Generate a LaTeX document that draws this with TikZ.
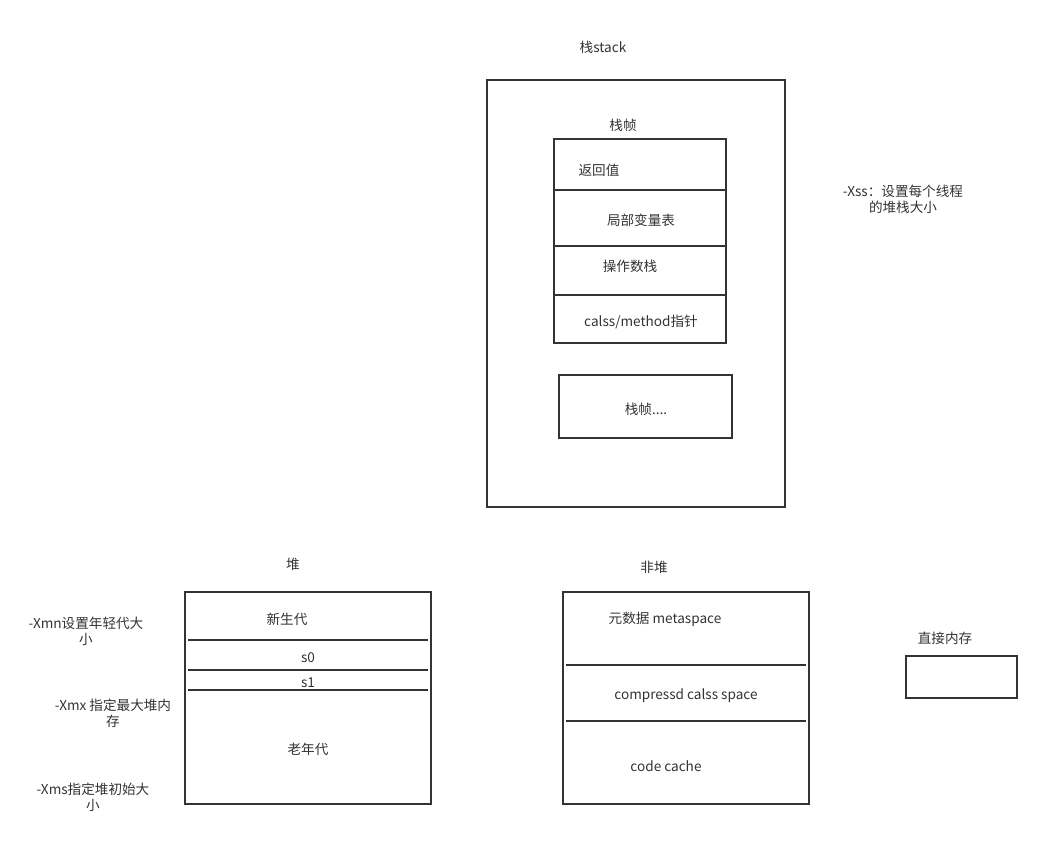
\documentclass[tikz,border=0pt]{standalone}
\usepackage{fontspec}
\setmainfont{Noto Sans CJK SC}
\usetikzlibrary{positioning,calc}
\definecolor{ink}{HTML}{333333}

\begin{document}
\begin{tikzpicture}[x=0.75pt,y=0.75pt,yscale=-1,xscale=1,
  every node/.style={text=ink, font=\fontsize{10.2}{12}\selectfont},
  box/.style={draw=ink, line width=1.5},
  cut/.style={draw=ink, line width=1.5}]
\useasboundingbox (0,0) rectangle (1042,840);

%Shape: Rectangle [stack]
\draw [box] (487,80) rectangle (785,507) ;
%Shape: Rectangle [frame]
\draw [box] (554,139) rectangle (726,343) ;
%Straight Lines [frame rows]
\draw [cut] (554,190) -- (726,190) ;
\draw [cut] (554,246) -- (726,246) ;
\draw [cut] (554,295) -- (726,295) ;
%Shape: Rectangle [next frame]
\draw [box] (559,375) rectangle (732,438) ;

%Shape: Rectangle [heap]
\draw [box] (185,592) rectangle (431,804) ;
%Straight Lines [heap rows]
\draw [cut] (188,640) -- (428,640) ;
\draw [cut] (188,670) -- (428,670) ;
\draw [cut] (188,690) -- (428,690) ;

%Shape: Rectangle [non heap]
\draw [box] (563,592) rectangle (809,804) ;
%Straight Lines [non heap rows]
\draw [cut] (566,665) -- (806,665) ;
\draw [cut] (566,721) -- (806,721) ;

%Shape: Rectangle [direct memory]
\draw [box] (906,656) rectangle (1017,698) ;

% Text Node
\draw (603,47) node (stacklbl) {栈stack};
% Text Node
\draw (623,125) node (framelbl) {栈帧};
% Text Node
\draw (599,170) node (retval) {返回值};
% Text Node
\draw (641,220) node (locals) {局部变量表};
% Text Node
\draw (630,266) node (opstack) {操作数栈};
% Text Node
\draw (641,322) node (methptr) {calss/method指针};
% Text Node
\draw (646,409) node (moreframe) {栈帧....};
% Text Node
\draw (903,199) node [align=center] (xss) {-Xss：设置每个线程\\的堆栈大小};

% Text Node
\draw (293,564) node (heaplbl) {堆};
% Text Node
\draw (287,619) node (young) {新生代};
% Text Node
\draw (308,658) node (szero) {s0};
% Text Node
\draw (308,683) node (sone) {s1};
% Text Node
\draw (308,749) node (old) {老年代};
% Text Node
\draw (86,631) node [align=center] (xmn) {-Xmn设置年轻代大\\小};
% Text Node
\draw (113,713) node [align=center] (xmx) {-Xmx 指定最大堆内\\存};
% Text Node
\draw (93,797) node [align=center] (xms) {-Xms指定堆初始大\\小};

% Text Node
\draw (654,567) node (nonheaplbl) {非堆};
% Text Node
\draw (665,619) node (meta) {元数据 metaspace};
% Text Node
\draw (686,696) node (ccs) {compressd calss space};
% Text Node
\draw (666,766) node (codecache) {code cache};
% Text Node
\draw (945,638) node (directlbl) {直接内存};

\end{tikzpicture}
\end{document}
